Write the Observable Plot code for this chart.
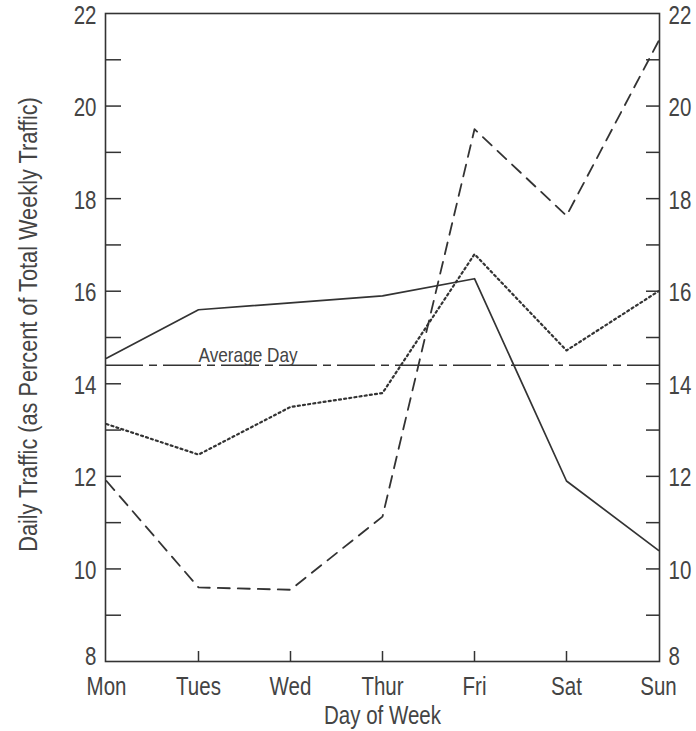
<!DOCTYPE html>
<html>
<head>
<meta charset="utf-8">
<script src="https://cdn.jsdelivr.net/npm/d3@7"></script>
<script src="https://cdn.jsdelivr.net/npm/@observablehq/plot@0.6"></script>
<style>
  html, body { margin: 0; padding: 0; background: #fff; }
  svg { display: block; }
</style>
</head>
<body>
<div id="chart"></div>
<script>
const days = ["Mon", "Tues", "Wed", "Thur", "Fri", "Sat", "Sun"];
const solidSeries = [14.55, 15.6, 15.75, 15.9, 16.27, 11.9, 10.4];
const dottedSeries = [13.13, 12.47, 13.5, 13.8, 16.8, 14.72, 16.0];
const dashedSeries = [11.9, 9.6, 9.55, 11.13, 19.5, 17.63, 21.4];
const averageDay = 14.4;
const yLabelTicks = [10, 12, 14, 16, 18, 20, 22];
const yBottomTick = [8];
const yMinorTicks = [9, 10, 11, 12, 13, 14, 15, 16, 17, 18, 19, 20, 21];
const xInnerTicks = ["Tues", "Wed", "Thur", "Fri", "Sat"];
const yTitle = "Daily Traffic (as Percent of Total Weekly Traffic)";
const xTitle = "Day of Week";

const font = "'Liberation Sans', Arial, sans-serif";
const ink = "#333";
const textInk = "#444";

const chart = Plot.plot({
  width: 696,
  height: 731,
  marginLeft: 105,
  marginRight: 37,
  marginTop: 13,
  marginBottom: 70,
  style: { fontFamily: font, color: textInk, background: "#fff", overflow: "visible" },
  x: { type: "point", domain: days, padding: 0 },
  y: { domain: [8, 22] },
  marks: [
    Plot.axisY({ anchor: "left", ticks: yLabelTicks, tickSize: 0, tickPadding: 9, fontSize: 25, dy: 2, label: null }),
    Plot.axisY({ anchor: "left", ticks: yBottomTick, tickSize: 0, tickPadding: 9, fontSize: 25, dy: -5, label: null }),
    Plot.axisY({ anchor: "left", ticks: yMinorTicks, tickSize: -16, fill: "none", stroke: ink, strokeWidth: 1.5, label: null }),
    Plot.axisY({ anchor: "right", ticks: yLabelTicks, tickSize: 0, tickPadding: 9, fontSize: 25, dy: 2, label: null }),
    Plot.axisY({ anchor: "right", ticks: yBottomTick, tickSize: 0, tickPadding: 9, fontSize: 25, dy: -5, label: null }),
    Plot.axisY({ anchor: "right", ticks: yMinorTicks, tickSize: -14, fill: "none", stroke: ink, strokeWidth: 1.5, label: null }),
    Plot.axisX({ anchor: "bottom", tickSize: 0, tickPadding: 16, fontSize: 25, label: null }),
    Plot.axisX({ anchor: "bottom", ticks: xInnerTicks, tickSize: -10, fill: "none", stroke: ink, strokeWidth: 1.5, label: null }),
    Plot.text([yTitle], { text: d => d, frameAnchor: "left", textAnchor: "middle", lineAnchor: "middle",
      rotate: -90, dx: -77, dy: -13, fontSize: 26.5, fill: textInk }),
    Plot.text([xTitle], { text: d => d, frameAnchor: "bottom", textAnchor: "middle", lineAnchor: "middle",
      dy: 54, fontSize: 25, fill: textInk }),
    Plot.frame({ stroke: ink, strokeWidth: 1.6 }),
    Plot.ruleY([averageDay], { stroke: ink, strokeWidth: 1.5, strokeDasharray: "38,6,8,6" }),
    Plot.text([averageDay], { x: () => "Tues", y: d => d, text: () => "Average Day", textAnchor: "start",
      lineAnchor: "bottom", dy: -3, fontSize: 21, fill: textInk }),
    Plot.line(days, { x: d => d, y: (d, i) => solidSeries[i], stroke: ink, strokeWidth: 1.7 }),
    Plot.line(days, { x: d => d, y: (d, i) => dottedSeries[i], stroke: ink, strokeWidth: 2.2, strokeDasharray: "2,3.2" }),
    Plot.line(days, { x: d => d, y: (d, i) => dashedSeries[i], stroke: ink, strokeWidth: 1.8, strokeDasharray: "12,8" })
  ]
});
document.getElementById("chart").appendChild(chart);

// Condense the text horizontally (narrow typeface look), keeping each anchor in place.
chart.querySelectorAll("text").forEach(t => {
  const x = parseFloat(t.getAttribute("x")) || 0;
  const tr = t.getAttribute("transform") || "";
  t.setAttribute("transform", `${tr} translate(${x},0) scale(0.82,1) translate(${-x},0)`.trim());
});
</script>
</body>
</html>
